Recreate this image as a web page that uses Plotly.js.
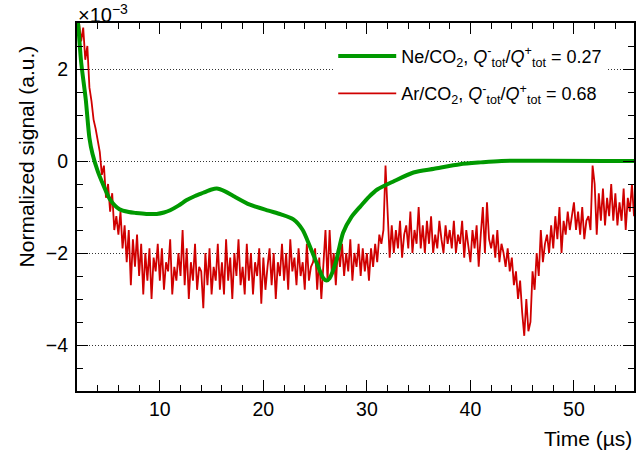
<!DOCTYPE html>
<html>
<head>
<meta charset="utf-8">
<script src="https://cdn.plot.ly/plotly-3.0.1.min.js"></script>
<style>html,body{margin:0;padding:0;background:#fff;}#chart{width:636px;height:454px;}</style>
</head>
<body>
<div id="chart"></div>
<script>
// Values in units of 1e-3 (axis multiplier shown as ×10^-3)
const neLabel = 'Ne/CO<sub>2</sub>, <i>Q</i><sup>-</sup><sub>tot</sub>/<i>Q</i><sup>+</sup><sub>tot</sub> = 0.27';
const arLabel = 'Ar/CO<sub>2</sub>, <i>Q</i><sup>-</sup><sub>tot</sub>/<i>Q</i><sup>+</sup><sub>tot</sub> = 0.68';

const neTime = [1.9, 2.1, 2.4, 2.84, 3.2, 3.5, 4.0, 4.5, 5.2, 6.1, 7.0, 7.7, 8.7, 9.7, 10.4, 11.0, 11.8, 12.6, 13.4, 14.2, 15.0, 15.5, 16.3, 17.1, 18.7, 20.5, 21.7, 22.9, 23.8, 24.5, 25.3, 25.8, 26.1, 26.4, 27.0, 27.7, 28.5, 29.4, 30.2, 31.0, 32.6, 34.5, 36.5, 39.0, 41.0, 43.0, 56.0];
const neSignal = [3.3, 2.98, 2.15, 1.35, 0.5, 0.15, -0.22, -0.5, -0.84, -1.05, -1.11, -1.13, -1.15, -1.15, -1.12, -1.07, -0.97, -0.85, -0.76, -0.69, -0.62, -0.6, -0.66, -0.76, -0.95, -1.08, -1.16, -1.27, -1.5, -1.86, -2.3, -2.55, -2.6, -2.55, -2.2, -1.56, -1.22, -0.98, -0.78, -0.62, -0.44, -0.25, -0.17, -0.07, -0.03, 0.0, 0.0];

// Ar/CO2 sampled every 0.2 us starting at 2.0 us
const arStart = 2.0;
const arStep = 0.2;
const arSignal = [
  3.4, 3.0, 2.6, 2.9, 2.2, 2.5, 1.6, 1.3, 0.9, 0.7,
  0.45, 0.2, -0.3, -0.1, -0.8, -0.5, -1.1, -0.7, -1.5, -1.2,
  -1.6, -1.1, -1.9, -1.4, -2.2, -1.5, -2.7, -1.7, -2.3, -1.6,
  -2.5, -1.8, -2.9, -2.0, -2.6, -1.9, -3.0, -2.1, -2.4, -1.8,
  -2.6, -1.9, -2.8, -2.2, -2.4, -1.7, -2.9, -2.3, -2.6, -2.0,
  -2.5, -1.5, -2.7, -1.9, -3.0, -2.2, -2.6, -1.8, -2.8, -2.3,
  -2.4, -3.2, -2.0, -2.7, -1.9, -2.9, -2.3, -2.6, -1.8, -2.8,
  -2.2, -2.9, -1.7, -2.6, -2.1, -3.0, -2.0, -2.5, -1.7, -2.7,
  -2.3, -2.9, -1.8, -2.6, -2.0, -2.9, -2.2, -2.5, -1.9, -3.1,
  -2.1, -2.8, -2.3, -1.9, -2.7, -2.0, -3.0, -2.2, -2.5, -1.8,
  -2.6, -2.0, -2.8, -1.7, -2.4, -2.1, -2.7, -1.9, -2.5, -2.2,
  -2.8, -1.8, -2.6, -2.3, -2.2, -1.9, -2.8, -2.1, -3.0, -2.3,
  -1.5, -2.6, -1.5, -2.4, -2.0, -2.7, -1.9, -2.3, -1.8, -2.5,
  -2.0, -2.4, -1.7, -2.6, -2.0, -2.3, -1.8, -2.5, -1.9, -2.4,
  -2.0, -2.6, -1.9, -2.3, -1.8, -2.2, -1.6, -1.8, -1.5, -0.1,
  -1.2, -2.1, -1.4, -2.0, -1.5, -1.9, -1.3, -2.1, -1.6, -1.4,
  -1.9, -1.1, -2.0, -1.5, -1.8, -1.0, -1.9, -1.4, -2.0, -1.3,
  -1.8, -1.2, -2.0, -1.6, -1.9, -1.3, -1.7, -2.0, -1.4, -1.8,
  -1.5, -1.9, -1.3, -2.0, -1.6, -1.8, -1.3, -2.1, -1.5, -1.9,
  -2.2, -1.5, -1.9, -1.4, -2.3, -1.6, -1.0, -2.0, -0.9, -1.7,
  -1.9, -1.6, -2.1, -1.5, -2.2, -1.8, -2.0, -2.3, -1.9, -2.4,
  -2.1, -2.7, -2.4, -3.0, -2.6, -3.3, -3.8, -3.0, -3.7, -3.5,
  -2.4, -2.8, -2.0, -2.5, -1.5, -2.2, -1.8, -1.6, -2.0, -1.4,
  -1.9, -1.2, -1.7, -1.0, -2.0, -1.3, -1.6, -1.1, -1.5, -1.2,
  -0.9, -1.5, -1.1, -1.6, -1.0, -1.7, -1.3, -1.2, -1.5, -0.1,
  -0.5, -1.6, -0.7, -1.3, -0.6, -1.4, -0.8, -1.2, -0.5, -1.3,
  -0.7, -1.4, -0.9, -1.3, -0.6, -1.5, -0.8, -1.1, -0.5, -1.2,
  -0.9
];

const yTickVals = [-4, -2, 0, 2];
const xTickVals = [10, 20, 30, 40, 50];

const FONT = 'Liberation Sans, Arial, Helvetica, sans-serif';

const traces = [
  {
    type: 'scatter', mode: 'lines', name: arLabel,
    x0: arStart, dx: arStep, y: arSignal,
    line: {color: '#d00000', width: 1.8},
    legendrank: 2, legendgroup: 'ar'
  },
  {
    type: 'scatter', mode: 'lines', name: neLabel,
    x: neTime, y: neSignal,
    line: {color: '#009900', width: 4, shape: 'spline', smoothing: 0.7},
    legendrank: 1, legendgroup: 'ne'
  }
];

const layout = {
  width: 636, height: 454,
  margin: {l: 77, r: 2, t: 23, b: 63},
  paper_bgcolor: '#fff', plot_bgcolor: '#fff',
  font: {family: FONT, size: 19, color: '#000'},
  showlegend: true,
  legend: {
    x: 0.460, y: 0.96, xanchor: 'left', yanchor: 'top',
    bgcolor: '#fff', borderwidth: 0,
    font: {family: FONT, size: 18, color: '#000'},
    itemwidth: 58,
    traceorder: 'grouped', tracegroupgap: 11
  },
  xaxis: {
    range: [2, 55.8],
    tickmode: 'array', tickvals: xTickVals,
    ticks: 'inside', ticklen: 11, tickwidth: 1, tickcolor: '#000',
    showline: true, linecolor: '#000', linewidth: 2, mirror: 'ticks',
    showgrid: false, zeroline: false,
    tickfont: {family: FONT, size: 19.5},
    minor: {dtick: 2, tick0: 0, ticks: 'inside', ticklen: 6, tickwidth: 1, tickcolor: '#000', showgrid: false}
  },
  yaxis: {
    range: [-5, 3],
    tickmode: 'array', tickvals: yTickVals,
    ticks: 'inside', ticklen: 11, tickwidth: 1, tickcolor: '#000',
    showline: true, linecolor: '#000', linewidth: 2, mirror: 'ticks',
    showgrid: true, gridcolor: '#333', gridwidth: 1, griddash: '1px,2px',
    zeroline: false,
    tickfont: {family: FONT, size: 19.5},
    ticklabelstandoff: 3,
    minor: {dtick: 0.5, tick0: 0, ticks: 'inside', ticklen: 6, tickwidth: 1, tickcolor: '#000', showgrid: false}
  },
  annotations: [
    {xref: 'paper', yref: 'paper', x: 0, y: 1, xanchor: 'left', yanchor: 'bottom',
     text: '×10<sup>−3</sup>', showarrow: false, font: {family: FONT, size: 20}, xshift: -1, yshift: -5},
    {xref: 'paper', yref: 'paper', x: -0.09, y: 0.637, xanchor: 'center', yanchor: 'middle',
     text: 'Normalized signal (a.u.)', textangle: -90, showarrow: false, font: {family: FONT, size: 21}},
    {xref: 'paper', yref: 'paper', x: 1, y: -0.128, xanchor: 'right', yanchor: 'middle',
     text: 'Time (µs)', showarrow: false, font: {family: FONT, size: 21}}
  ]
};

Plotly.newPlot('chart', traces, layout, {staticPlot: true, displayModeBar: false});
</script>
</body>
</html>
